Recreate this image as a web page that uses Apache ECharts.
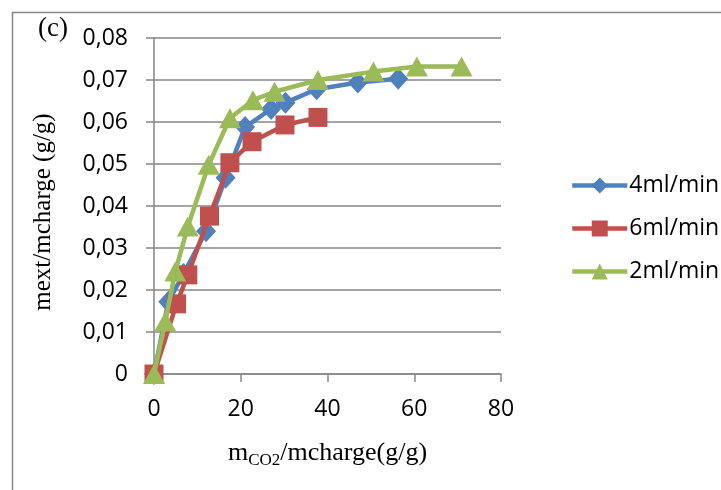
<!DOCTYPE html>
<html>
<head>
<meta charset="utf-8">
<script src="https://cdn.jsdelivr.net/npm/echarts@6/dist/echarts.min.js"></script>
<style>
html,body{margin:0;padding:0;background:#fff;}
#chart{width:721px;height:490px;}
</style>
</head>
<body>
<div id="chart"></div>
<script>
// ---- data ----
const seriesNames = ['4ml/min', '6ml/min', '2ml/min'];
const x4 = [0, 3.3, 6.8, 12.0, 16.5, 21.0, 27.0, 30.3, 37.5, 47.0, 56.3];
const y4 = [0, 0.0172, 0.0238, 0.0340, 0.0467, 0.0588, 0.0631, 0.0646, 0.0678, 0.0694, 0.0703];
const x6 = [0, 5.2, 7.8, 12.8, 17.5, 22.6, 30.2, 37.8];
const y6 = [0, 0.0167, 0.0236, 0.0376, 0.0503, 0.0553, 0.0593, 0.0611];
const x2 = [0, 2.6, 4.9, 7.8, 12.6, 17.5, 22.8, 27.8, 37.8, 50.6, 60.6, 70.9];
const y2 = [0, 0.0125, 0.0244, 0.0351, 0.0498, 0.0609, 0.0652, 0.0672, 0.0700, 0.0720, 0.0732, 0.0732];
const xTickLabels = ['0', '20', '40', '60', '80'];
const yTickLabels = ['0', '0,01', '0,02', '0,03', '0,04', '0,05', '0,06', '0,07', '0,08'];
const yTitle = 'mext/mcharge (g/g)';
const panelLabel = '(c)';

const pair = (xs, ys) => xs.map((v, i) => [v, ys[i]]);
const colors = ['#4F81BD', '#C0504D', '#9BBB59'];
const symbols = ['diamond', 'rect', 'triangle'];
const symbolSizes = [[20, 22], 19, [22, 20]];
const datasets = [pair(x4, y4), pair(x6, y6), pair(x2, y2)];

const chart = echarts.init(document.getElementById('chart'), null, {renderer: 'canvas'});
const tickFont = 'Open Sans';
const serif = 'Liberation Serif';

chart.setOption({
  animation: false,
  backgroundColor: '#fff',
  grid: {left: 154, right: 220, top: 38, bottom: 116, containLabel: false},
  xAxis: {
    type: 'value', min: 0, max: 80, interval: 20,
    axisLine: {show: true, lineStyle: {color: '#868686', width: 1.5}},
    axisTick: {show: true, length: 8, lineStyle: {color: '#868686', width: 1.5}},
    splitLine: {show: false},
    axisLabel: {margin: 24, fontFamily: tickFont, fontSize: 23, color: '#000',
      formatter: (v) => xTickLabels[Math.round(v / 20)]},
    name: '{m|m}{s|CO2}{m|/mcharge(g/g)}',
    nameLocation: 'middle', nameGap: 64,
    nameTextStyle: {rich: {
      m: {fontFamily: serif, fontSize: 26, color: '#000'},
      s: {fontFamily: serif, fontSize: 17, color: '#000', verticalAlign: 'bottom', padding: [14, 0, 0, 0]}
    }}
  },
  yAxis: {
    type: 'value', min: 0, max: 0.08, interval: 0.01,
    axisLine: {show: true, lineStyle: {color: '#868686', width: 1.5}},
    axisTick: {show: true, inside: false, length: 8, lineStyle: {color: '#868686', width: 1.5}},
    splitLine: {show: true, lineStyle: {color: '#868686', width: 1.5}},
    axisLabel: {margin: 26, fontFamily: tickFont, fontSize: 23, color: '#000',
      formatter: (v) => yTickLabels[Math.round(v / 0.01)]},
    name: yTitle, nameLocation: 'middle', nameGap: 98, nameRotate: 90,
    nameTextStyle: {fontFamily: serif, fontSize: 25, color: '#000', padding: [0, 12, 0, 0]}
  },
  legend: {
    orient: 'vertical', left: 565, top: 169,
    itemWidth: 55, itemHeight: 20, itemGap: 20,
    itemStyle: {borderWidth: 0},
    lineStyle: {width: 4.5},
    textStyle: {fontFamily: tickFont, fontSize: 23, color: '#000', padding: [0, 0, 0, -3]},
    data: seriesNames
  },
  graphic: [
    {type: 'rect', left: 10, top: 10, shape: {width: 760, height: 520},
     style: {fill: 'none', stroke: '#868686', lineWidth: 1.5}, silent: true, z: -1},
    {type: 'text', left: 38, top: 15, style: {text: panelLabel, font: '27px "Liberation Serif"', fill: '#000'}}
  ],
  series: seriesNames.map((name, i) => ({
    name, type: 'line', data: datasets[i],
    symbol: symbols[i], symbolSize: symbolSizes[i],
    lineStyle: {color: colors[i], width: 4.5},
    itemStyle: {color: colors[i]},
    showAllSymbol: true, clip: false, z: 2 + i
  }))
});
</script>
</body>
</html>
